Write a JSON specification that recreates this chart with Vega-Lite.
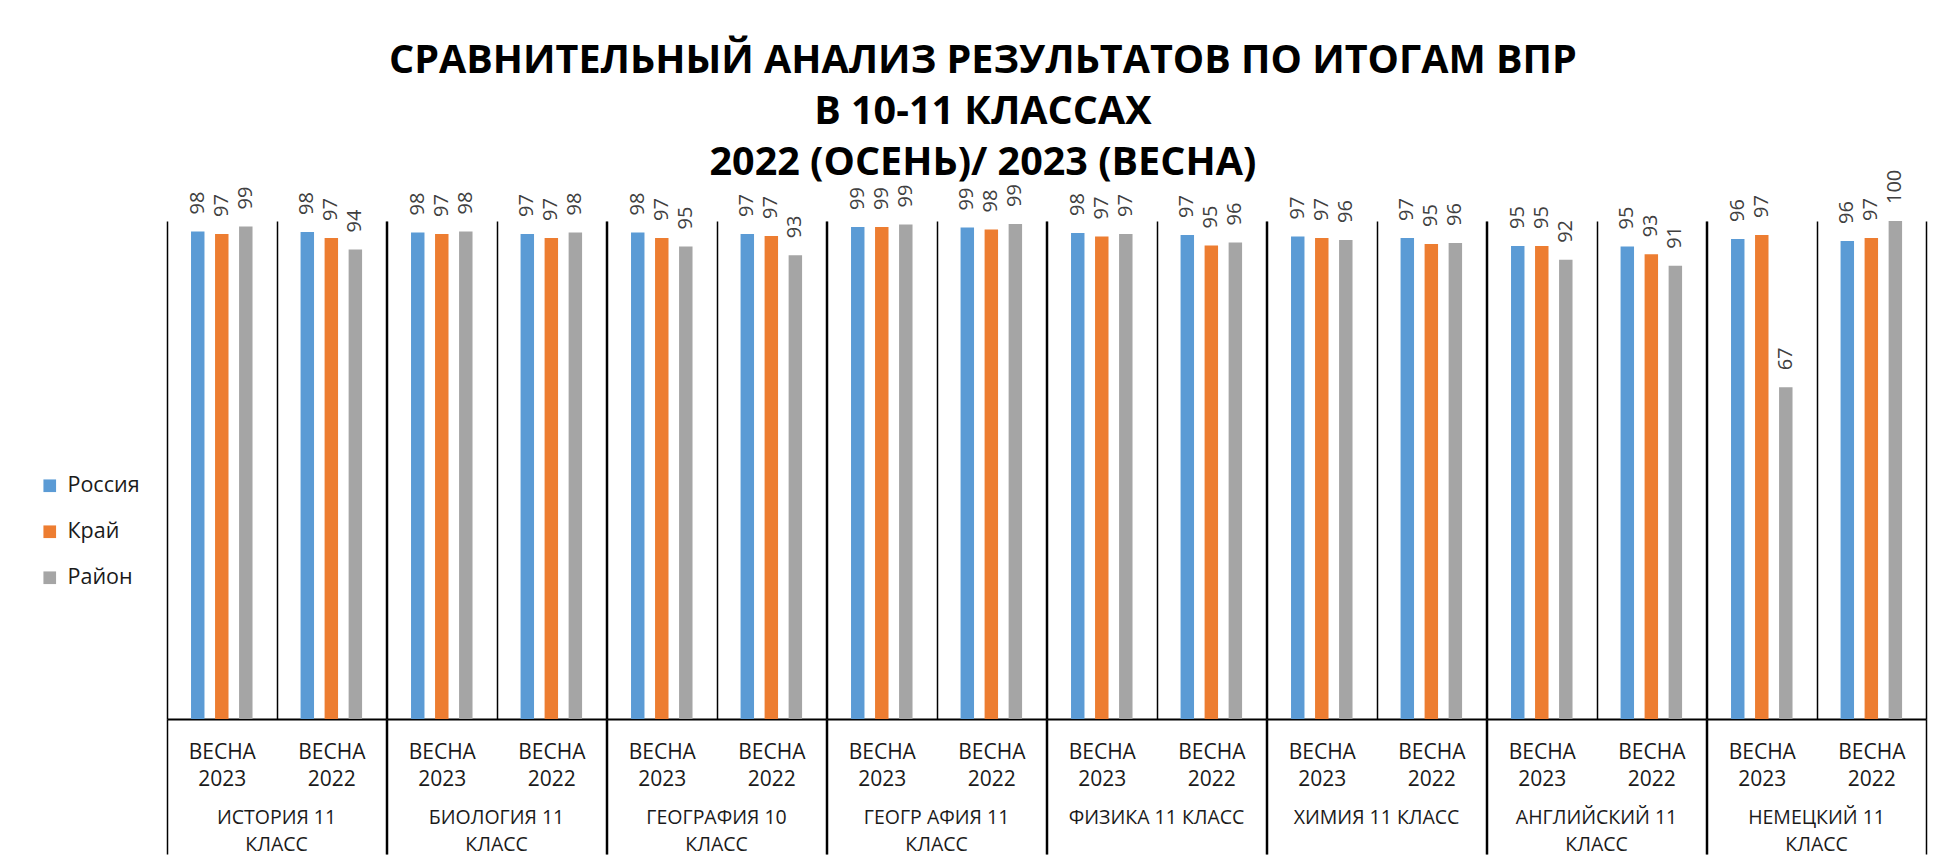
{
  "$schema": "https://vega.github.io/schema/vega-lite/v6.json",
  "background": "white",
  "padding": {"left": 39, "top": 41, "right": 12, "bottom": 10},
  "title": {
    "text": ["СРАВНИТЕЛЬНЫЙ АНАЛИЗ РЕЗУЛЬТАТОВ ПО ИТОГАМ ВПР", "В 10-11 КЛАССАХ", "2022 (ОСЕНЬ)/ 2023 (ВЕСНА)"],
    "font": "Open Sans",
    "fontSize": 39.5,
    "fontWeight": "bold",
    "lineHeight": 51,
    "color": "black",
    "anchor": "middle",
    "dx": 0,
    "offset": -14
  },
  "data": {
    "values": [
      {"subject": "ИСТОРИЯ 11 КЛАСС", "season": "ВЕСНА 2023", "series": "Россия", "value": 97.9},
      {"subject": "ИСТОРИЯ 11 КЛАСС", "season": "ВЕСНА 2023", "series": "Край", "value": 97.4},
      {"subject": "ИСТОРИЯ 11 КЛАСС", "season": "ВЕСНА 2023", "series": "Район", "value": 98.9},
      {"subject": "ИСТОРИЯ 11 КЛАСС", "season": "ВЕСНА 2022", "series": "Россия", "value": 97.8},
      {"subject": "ИСТОРИЯ 11 КЛАСС", "season": "ВЕСНА 2022", "series": "Край", "value": 96.6},
      {"subject": "ИСТОРИЯ 11 КЛАСС", "season": "ВЕСНА 2022", "series": "Район", "value": 94.3},
      {"subject": "БИОЛОГИЯ 11 КЛАСС", "season": "ВЕСНА 2023", "series": "Россия", "value": 97.7},
      {"subject": "БИОЛОГИЯ 11 КЛАСС", "season": "ВЕСНА 2023", "series": "Край", "value": 97.4},
      {"subject": "БИОЛОГИЯ 11 КЛАСС", "season": "ВЕСНА 2023", "series": "Район", "value": 97.9},
      {"subject": "БИОЛОГИЯ 11 КЛАСС", "season": "ВЕСНА 2022", "series": "Россия", "value": 97.4},
      {"subject": "БИОЛОГИЯ 11 КЛАСС", "season": "ВЕСНА 2022", "series": "Край", "value": 96.6},
      {"subject": "БИОЛОГИЯ 11 КЛАСС", "season": "ВЕСНА 2022", "series": "Район", "value": 97.7},
      {"subject": "ГЕОГРАФИЯ 10 КЛАСС", "season": "ВЕСНА 2023", "series": "Россия", "value": 97.7},
      {"subject": "ГЕОГРАФИЯ 10 КЛАСС", "season": "ВЕСНА 2023", "series": "Край", "value": 96.6},
      {"subject": "ГЕОГРАФИЯ 10 КЛАСС", "season": "ВЕСНА 2023", "series": "Район", "value": 94.9},
      {"subject": "ГЕОГРАФИЯ 10 КЛАСС", "season": "ВЕСНА 2022", "series": "Россия", "value": 97.4},
      {"subject": "ГЕОГРАФИЯ 10 КЛАСС", "season": "ВЕСНА 2022", "series": "Край", "value": 97.0},
      {"subject": "ГЕОГРАФИЯ 10 КЛАСС", "season": "ВЕСНА 2022", "series": "Район", "value": 93.1},
      {"subject": "ГЕОГР АФИЯ 11 КЛАСС", "season": "ВЕСНА 2023", "series": "Россия", "value": 98.8},
      {"subject": "ГЕОГР АФИЯ 11 КЛАСС", "season": "ВЕСНА 2023", "series": "Край", "value": 98.8},
      {"subject": "ГЕОГР АФИЯ 11 КЛАСС", "season": "ВЕСНА 2023", "series": "Район", "value": 99.3},
      {"subject": "ГЕОГР АФИЯ 11 КЛАСС", "season": "ВЕСНА 2022", "series": "Россия", "value": 98.7},
      {"subject": "ГЕОГР АФИЯ 11 КЛАСС", "season": "ВЕСНА 2022", "series": "Край", "value": 98.3},
      {"subject": "ГЕОГР АФИЯ 11 КЛАСС", "season": "ВЕСНА 2022", "series": "Район", "value": 99.4},
      {"subject": "ФИЗИКА 11 КЛАСС", "season": "ВЕСНА 2023", "series": "Россия", "value": 97.6},
      {"subject": "ФИЗИКА 11 КЛАСС", "season": "ВЕСНА 2023", "series": "Край", "value": 96.9},
      {"subject": "ФИЗИКА 11 КЛАСС", "season": "ВЕСНА 2023", "series": "Район", "value": 97.4},
      {"subject": "ФИЗИКА 11 КЛАСС", "season": "ВЕСНА 2022", "series": "Россия", "value": 97.2},
      {"subject": "ФИЗИКА 11 КЛАСС", "season": "ВЕСНА 2022", "series": "Край", "value": 95.1},
      {"subject": "ФИЗИКА 11 КЛАСС", "season": "ВЕСНА 2022", "series": "Район", "value": 95.7},
      {"subject": "ХИМИЯ 11 КЛАСС", "season": "ВЕСНА 2023", "series": "Россия", "value": 96.9},
      {"subject": "ХИМИЯ 11 КЛАСС", "season": "ВЕСНА 2023", "series": "Край", "value": 96.6},
      {"subject": "ХИМИЯ 11 КЛАСС", "season": "ВЕСНА 2023", "series": "Район", "value": 96.2},
      {"subject": "ХИМИЯ 11 КЛАСС", "season": "ВЕСНА 2022", "series": "Россия", "value": 96.6},
      {"subject": "ХИМИЯ 11 КЛАСС", "season": "ВЕСНА 2022", "series": "Край", "value": 95.4},
      {"subject": "ХИМИЯ 11 КЛАСС", "season": "ВЕСНА 2022", "series": "Район", "value": 95.6},
      {"subject": "АНГЛИЙСКИЙ  11 КЛАСС", "season": "ВЕСНА 2023", "series": "Россия", "value": 95.0},
      {"subject": "АНГЛИЙСКИЙ  11 КЛАСС", "season": "ВЕСНА 2023", "series": "Край", "value": 95.0},
      {"subject": "АНГЛИЙСКИЙ  11 КЛАСС", "season": "ВЕСНА 2023", "series": "Район", "value": 92.2},
      {"subject": "АНГЛИЙСКИЙ  11 КЛАСС", "season": "ВЕСНА 2022", "series": "Россия", "value": 94.9},
      {"subject": "АНГЛИЙСКИЙ  11 КЛАСС", "season": "ВЕСНА 2022", "series": "Край", "value": 93.3},
      {"subject": "АНГЛИЙСКИЙ  11 КЛАСС", "season": "ВЕСНА 2022", "series": "Район", "value": 91.0},
      {"subject": "НЕМЕЦКИЙ  11 КЛАСС", "season": "ВЕСНА 2023", "series": "Россия", "value": 96.4},
      {"subject": "НЕМЕЦКИЙ  11 КЛАСС", "season": "ВЕСНА 2023", "series": "Край", "value": 97.2},
      {"subject": "НЕМЕЦКИЙ  11 КЛАСС", "season": "ВЕСНА 2023", "series": "Район", "value": 66.6},
      {"subject": "НЕМЕЦКИЙ  11 КЛАСС", "season": "ВЕСНА 2022", "series": "Россия", "value": 96.0},
      {"subject": "НЕМЕЦКИЙ  11 КЛАСС", "season": "ВЕСНА 2022", "series": "Край", "value": 96.6},
      {"subject": "НЕМЕЦКИЙ  11 КЛАСС", "season": "ВЕСНА 2022", "series": "Район", "value": 100}
    ]
  },
  "spacing": 0,
  "facet": {
    "column": {
      "field": "subject",
      "type": "nominal",
      "title": null,
      "sort": ["ИСТОРИЯ 11 КЛАСС", "БИОЛОГИЯ 11 КЛАСС", "ГЕОГРАФИЯ 10 КЛАСС", "ГЕОГР АФИЯ 11 КЛАСС", "ФИЗИКА 11 КЛАСС", "ХИМИЯ 11 КЛАСС", "АНГЛИЙСКИЙ  11 КЛАСС", "НЕМЕЦКИЙ  11 КЛАСС"],
      "header": {
        "labelOrient": "bottom",
        "labelExpr": "length(datum.value) > 15 ? split(replace(datum.value, ' КЛАСС', '|КЛАСС'), '|') : datum.value",
        "labelFont": "Open Sans",
        "labelFontSize": 19.5,
        "labelColor": "#1a1a1a",
        "labelLineHeight": 27,
        "labelPadding": -46,
        "labelBaseline": "top"
      }
    }
  },
  "spec": {
    "width": 219.1,
    "height": 498,
    "encoding": {
      "x": {
        "field": "season",
        "type": "nominal",
        "sort": ["ВЕСНА 2023", "ВЕСНА 2022"],
        "title": null,
        "scale": {"paddingInner": 0, "paddingOuter": 0},
        "axis": {
          "labelAngle": 0,
          "labelExpr": "split(datum.label, ' ')",
          "labelFont": "Open Sans",
          "labelFontSize": 21,
          "labelColor": "#1a1a1a",
          "labelLineHeight": 27,
          "labelPadding": -113,
          "domainColor": "black",
          "domainWidth": 2,
          "tickBand": "extent",
          "tickSize": 135,
          "tickColor": "black",
          "tickWidth": 1.5,
          "tickOpacity": {"condition": {"test": "datum.value === 'ВЕСНА 2023'", "value": 0}, "value": 1},
          "grid": true,
          "gridColor": "black",
          "gridWidth": 1.5
        }
      },
      "xOffset": {
        "field": "series",
        "type": "nominal",
        "sort": ["Россия", "Край", "Район"],
        "scale": {"paddingInner": 0.44, "paddingOuter": 1.19}
      },
      "y": {
        "field": "value",
        "type": "quantitative",
        "scale": {"domain": [0, 100], "nice": false},
        "axis": null
      }
    },
    "layer": [
      {
        "mark": {"type": "bar"},
        "encoding": {
          "color": {
            "field": "series",
            "type": "nominal",
            "scale": {"domain": ["Россия", "Край", "Район"], "range": ["#5B9BD5", "#ED7D31", "#A5A5A5"]},
            "legend": {
              "orient": "none",
              "legendX": -128,
              "legendY": 254,
              "title": null,
              "symbolType": "square",
              "symbolSize": 160,
              "symbolStrokeWidth": 0,
              "labelFont": "Open Sans",
              "labelFontSize": 21.5,
              "labelColor": "#1a1a1a",
              "labelOffset": 7,
              "rowPadding": 23
            }
          }
        }
      },
      {
        "mark": {"type": "text", "angle": 270, "align": "left", "baseline": "middle", "dx": 17, "font": "Open Sans", "fontSize": 20, "color": "#404040"},
        "encoding": {
          "text": {"field": "value", "type": "quantitative", "format": ".0f"}
        }
      }
    ]
  },
  "config": {
    "view": {"stroke": null}
  }
}
